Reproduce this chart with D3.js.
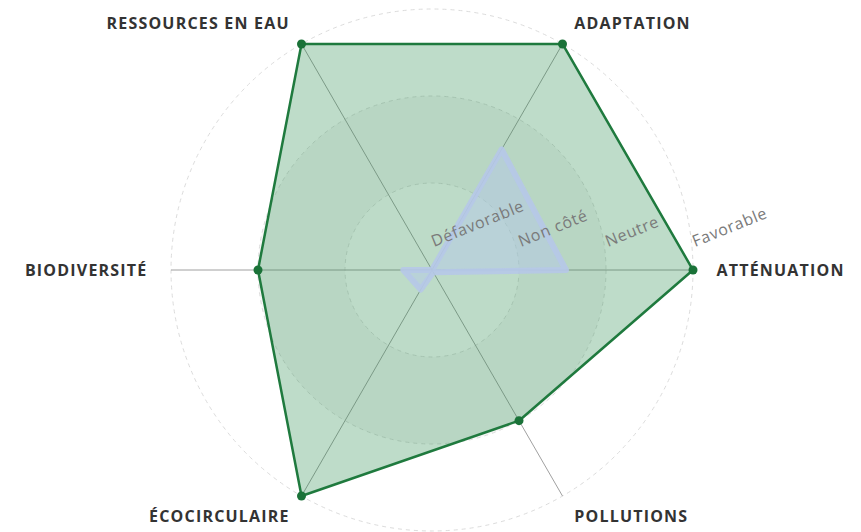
<!DOCTYPE html>
<html>
<head>
<meta charset="utf-8">
<script src="https://cdn.jsdelivr.net/npm/d3@7"></script>
<style>
    body { margin: 0; background: #fff; }
    svg { display: block; font-family: "Open Sans", sans-serif; }
</style>
</head>
<body>
<svg id="radar" width="861" height="532"></svg>
<script>
'use strict';

// axes, counter-clockwise from the right
let axes = ["ATTÉNUATION", "ADAPTATION", "RESSOURCES EN EAU", "BIODIVERSITÉ", "ÉCOCIRCULAIRE", "POLLUTIONS"]
let levels = ["Défavorable", "Non côté", "Neutre", "Favorable"]

let projetValues = [3, 3, 3, 2, 3, 2]
let referenceValues = [1.54, 1.6, 0, 0.33, 0.26, 0.03]

let radarChart = (function() {

    function render(svgID) {
        let svg = d3.select("#" + svgID)
        let cx = 432
        let cy = 270
        let radius = 261

        let r = d3.scaleLinear()
            .domain([0, levels.length - 1])
            .range([0, radius])

        let angle = d3.scaleLinear()
            .domain([0, axes.length])
            .range([0, 2 * Math.PI])

        function point(i, v) {
            let a = angle(i)
            return [cx + r(v) * Math.cos(a), cy - r(v) * Math.sin(a)]
        }

        let grid = svg.append("g").attr("class", "grid")

        // shaded rings, very light
        let bands = d3.range(1, levels.length).reverse()
        grid.selectAll("circle.band")
            .data(bands)
            .enter().append("circle")
            .attr("class", "band")
            .attr("cx", cx)
            .attr("cy", cy)
            .attr("r", function(d) { return r(d); })
            .attr("fill", function(d) { return d === 2 ? "#f7f7f7" : (d === 1 ? "#fefefe" : "#ffffff"); })

        grid.selectAll("circle.ring")
            .data(d3.range(1, levels.length))
            .enter().append("circle")
            .attr("class", "ring")
            .attr("cx", cx)
            .attr("cy", cy)
            .attr("r", function(d) { return r(d); })
            .attr("fill", "none")
            .attr("stroke", "#dcdcdc")
            .attr("stroke-dasharray", "4,4")

        grid.selectAll("line.axis")
            .data(axes)
            .enter().append("line")
            .attr("class", "axis")
            .attr("x1", cx)
            .attr("y1", cy)
            .attr("x2", function(d, i) { return point(i, levels.length - 1)[0]; })
            .attr("y2", function(d, i) { return point(i, levels.length - 1)[1]; })
            .attr("stroke", "#a0a0a0")
            .attr("stroke-width", 1)

        let line = d3.line()
            .x(function(d) { return d[0]; })
            .y(function(d) { return d[1]; })
            .curve(d3.curveLinearClosed)

        let projet = projetValues.map(function(v, i) { return point(i, v); })
        let reference = referenceValues.map(function(v, i) { return point(i, v); })

        svg.append("path")
            .attr("d", line(projet))
            .attr("fill", "rgba(40, 140, 75, 0.3)")
            .attr("stroke", "#1f7a3e")
            .attr("stroke-width", 2.5)
            .attr("stroke-linejoin", "round")

        svg.append("path")
            .attr("d", line(reference))
            .attr("fill", "rgba(180, 200, 235, 0.45)")
            .attr("stroke", "rgba(182, 200, 232, 0.9)")
            .attr("stroke-width", 6)
            .attr("stroke-linejoin", "round")

        svg.append("g")
            .selectAll("circle")
            .data(projet)
            .enter().append("circle")
            .attr("cx", function(d) { return d[0]; })
            .attr("cy", function(d) { return d[1]; })
            .attr("r", 4.5)
            .attr("fill", "#1a7238")

        // level labels along the right axis
        svg.append("g")
            .selectAll("text")
            .data(levels)
            .enter().append("text")
            .attr("transform", function(d, i) {
                return "translate(" + (cx + r(i) + 2) + "," + (cy - 23) + ") rotate(-22)"
            })
            .attr("font-size", 16)
            .attr("letter-spacing", "0.7px")
            .attr("fill", "#7a7a7a")
            .text(function(d) { return d; })

        // axis names
        svg.append("g")
            .selectAll("text")
            .data(axes)
            .enter().append("text")
            .attr("x", function(d, i) { return point(i, 3.27)[0]; })
            .attr("y", function(d, i) { return point(i, 3.27)[1]; })
            .attr("dy", "0.35em")
            .attr("text-anchor", function(d, i) {
                let c = Math.cos(angle(i))
                return Math.abs(c) < 1e-6 ? "middle" : (c > 0 ? "start" : "end")
            })
            .attr("font-size", 16)
            .attr("letter-spacing", "1.2px")
            .attr("font-weight", 700)
            .attr("fill", "#333")
            .text(function(d) { return d; })
    }

    return {
        render
    }
}())

radarChart.render("radar")
</script>
</body>
</html>
